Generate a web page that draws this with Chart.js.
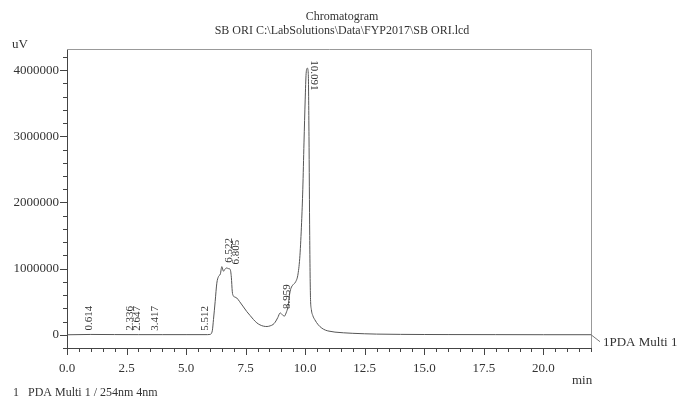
<!DOCTYPE html>
<html>
<head>
<meta charset="utf-8">
<script src="https://cdn.jsdelivr.net/npm/chart.js@4"></script>
<style>
  html, body { margin: 0; padding: 0; background: #fff; }
  #wrap { width: 678px; height: 401px; }
</style>
</head>
<body>
<div id="wrap"><canvas id="chrom" width="678" height="401"></canvas></div>
<script>
// retention time (min) and detector signal (uV)
const times = [0, 1, 2, 3, 4, 5, 5.9, 6.0, 6.1, 6.15, 6.22, 6.29, 6.36, 6.44, 6.5, 6.57, 6.63, 6.7, 6.78, 6.85,
  6.9, 6.94, 6.98, 7.05, 7.13, 7.25, 7.41, 7.55, 7.69, 7.83, 7.97, 8.1, 8.25, 8.4, 8.53, 8.65, 8.74, 8.85,
  8.95, 9.05, 9.12, 9.2, 9.28, 9.34, 9.4, 9.5, 9.6, 9.7, 9.78, 9.85, 9.9, 9.95, 10.0, 10.04, 10.09, 10.13,
  10.16, 10.19, 10.22, 10.26, 10.32, 10.4, 10.55, 10.7, 10.85, 11.0, 11.25, 11.6, 12.0, 12.5, 13.0, 14.0,
  15.0, 16.0, 18.0, 20.0, 22.0];
const signal = [0, 5000, 3000, 2000, 2000, 2000, 2000, 5000, 60000, 230000, 500000, 780000, 880000, 920000,
  1030000, 960000, 990000, 1010000, 1000000, 990000, 870000, 650000, 590000, 570000, 555000, 500000, 420000,
  350000, 290000, 230000, 180000, 150000, 130000, 125000, 135000, 155000, 190000, 260000, 330000, 300000,
  280000, 330000, 430000, 600000, 700000, 760000, 800000, 920000, 1200000, 1700000, 2200000, 2900000,
  3550000, 3950000, 4030000, 3950000, 3000000, 1500000, 600000, 380000, 290000, 230000, 150000, 100000,
  70000, 55000, 40000, 30000, 22000, 15000, 10000, 6000, 4000, 3000, 2000, 1000, 1000];

// peak table
const peakTimes = [0.614, 2.336, 2.647, 3.417, 5.512, 6.522, 6.805, 8.959, 10.091];
const peakHeights = [5000, 2000, 2000, 2000, 2000, 1030000, 1000000, 330000, 4030000];
const peakLabels = ['0.614', '2.336', '2.647', '3.417', '5.512', '6.522', '6.805', '8.959', '10.091'];

// axis ticks
const xMajorTicks = [0, 2.5, 5, 7.5, 10, 12.5, 15, 17.5, 20];
const yMajorTicks = [0, 1000000, 2000000, 3000000, 4000000];

const serif = "'Liberation Serif', 'Times New Roman', serif";
const textColor = '#333';

const chromExtras = {
  id: 'chromExtras',
  afterDraw(chart) {
    const ctx = chart.ctx;
    const area = chart.chartArea;
    const xs = chart.scales.x;
    const ys = chart.scales.y;
    ctx.save();

    // frame (top and right edges)
    ctx.strokeStyle = '#999';
    ctx.lineWidth = 1;
    ctx.beginPath();
    ctx.moveTo(area.left, area.top + 0.5);
    ctx.lineTo(area.right + 0.5, area.top + 0.5);
    ctx.lineTo(area.right + 0.5, area.bottom);
    ctx.stroke();

    // tick marks
    ctx.strokeStyle = '#444';
    ctx.beginPath();
    for (let v = -200000; v <= 4200000; v += 200000) {
      const y = Math.round(ys.getPixelForValue(v)) + 0.5;
      const len = (v % 1000000 === 0) ? 7 : 4;
      ctx.moveTo(area.left - len, y);
      ctx.lineTo(area.left, y);
    }
    for (let i = 0; i <= 44; i++) {
      const t = i * 0.5;
      const x = Math.round(xs.getPixelForValue(t)) + 0.5;
      const len = (i % 5 === 0) ? 7 : 4;
      ctx.moveTo(x, area.bottom);
      ctx.lineTo(x, area.bottom + len);
    }
    ctx.stroke();

    // peak retention time labels
    ctx.fillStyle = textColor;
    ctx.font = '11px ' + serif;
    ctx.textBaseline = 'middle';
    ctx.textAlign = 'left';
    peakTimes.forEach((t, i) => {
      const x = xs.getPixelForValue(t) + 7;
      const py = ys.getPixelForValue(peakHeights[i]);
      ctx.save();
      if (i === peakTimes.length - 1) {
        ctx.translate(x, py - 8);
        ctx.rotate(Math.PI / 2);
      } else {
        ctx.translate(x, py - 4);
        ctx.rotate(-Math.PI / 2);
      }
      ctx.fillText(peakLabels[i], 0, 0);
      ctx.restore();
    });

    // leader to the trace name
    const endY = ys.getPixelForValue(signal[signal.length - 1]);
    ctx.strokeStyle = '#777';
    ctx.beginPath();
    ctx.moveTo(area.right, endY);
    ctx.lineTo(area.right + 9, endY + 7);
    ctx.stroke();

    // titles and labels
    ctx.fillStyle = textColor;
    ctx.textBaseline = 'middle';
    ctx.font = '12px ' + serif;
    ctx.textAlign = 'center';
    ctx.fillText('Chromatogram', 342, 17);
    ctx.fillText('SB ORI C:\\LabSolutions\\Data\\FYP2017\\SB ORI.lcd', 342, 31);
    ctx.textAlign = 'left';
    ctx.font = '13px ' + serif;
    ctx.fillText('uV', 12, 45);
    ctx.fillText('1PDA Multi 1', 603, endY + 8);
    ctx.fillText('min', 572, 381);
    ctx.font = '12px ' + serif;
    ctx.fillText('1   PDA Multi 1 / 254nm 4nm', 13, 393);
    ctx.restore();
  }
};

new Chart(document.getElementById('chrom'), {
  type: 'line',
  data: {
    datasets: [{
      label: 'PDA Multi 1',
      data: times.map((t, i) => ({ x: t, y: signal[i] })),
      borderColor: '#555',
      borderWidth: 1,
      pointRadius: 0,
      fill: false,
      cubicInterpolationMode: 'monotone'
    }]
  },
  options: {
    responsive: false,
    animation: false,
    layout: { padding: { top: 49, right: 87, left: 0, bottom: 0 } },
    plugins: { legend: { display: false }, tooltip: { enabled: false }, title: { display: false } },
    scales: {
      x: {
        type: 'linear',
        min: 0, max: 22,
        afterFit: s => { s.height = 53; },
        afterBuildTicks: s => { s.ticks = xMajorTicks.map(v => ({ value: v })); },
        grid: { display: false, drawTicks: false },
        border: { display: true, color: '#444', width: 1 },
        ticks: {
          padding: 13, color: textColor, maxRotation: 0, autoSkip: false,
          font: { family: serif, size: 13 },
          callback: v => Number(v).toFixed(1)
        }
      },
      y: {
        min: -200000, max: 4320000,
        afterFit: s => { s.width = 67; },
        afterBuildTicks: s => { s.ticks = yMajorTicks.map(v => ({ value: v })); },
        grid: { display: false, drawTicks: false },
        border: { display: true, color: '#444', width: 1 },
        ticks: {
          padding: 8, color: textColor, autoSkip: false,
          font: { family: serif, size: 13 },
          callback: v => String(v)
        }
      }
    }
  },
  plugins: [chromExtras]
});
</script>
</body>
</html>
